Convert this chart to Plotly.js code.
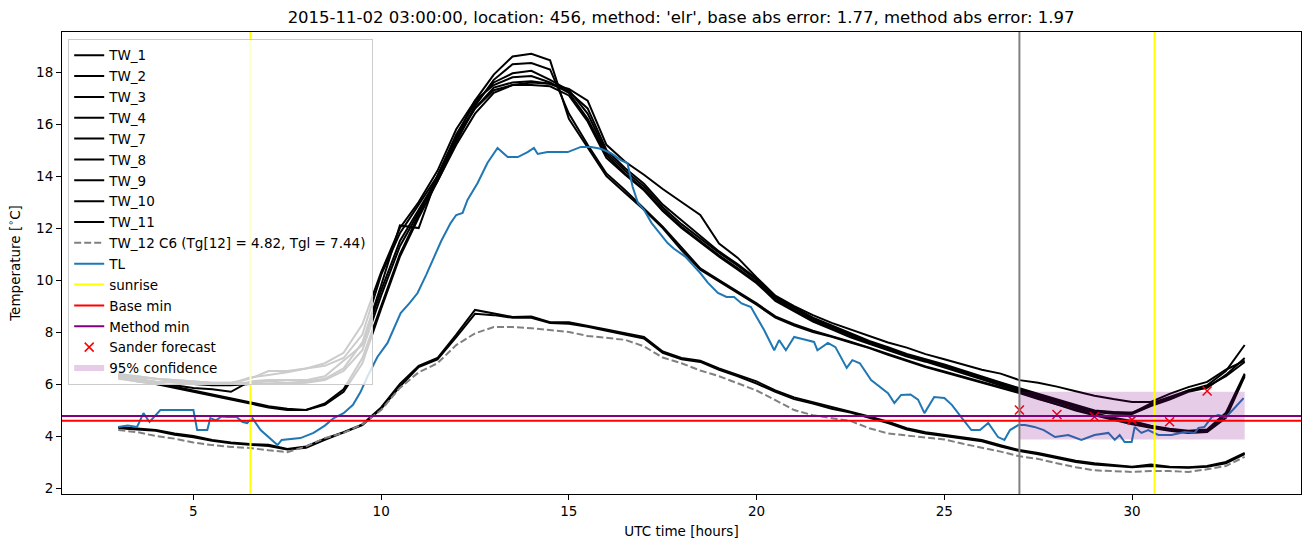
<!DOCTYPE html>
<html>
<head>
<meta charset="utf-8">
<script src="https://cdn.plot.ly/plotly-3.0.1.min.js"></script>
<style>html,body{margin:0;padding:0;background:#fff;}#chart{width:1311px;height:547px;}</style>
</head>
<body>
<div id="chart"></div>
<script>
// ---- data ----
const hours = [3,3.5,4,4.5,5,5.5,6,6.5,7,7.5,8,8.5,9,9.5,10,10.5,11,11.5,12,12.5,13,13.5,14,14.5,15,15.5,16,16.5,17,17.5,18,18.5,19,19.5,20,20.5,21,21.5,22,22.5,23,23.5,24,24.5,25,25.5,26,26.5,27,27.5,28,28.5,29,29.5,30,30.5,31,31.5,32,32.5,33];

const TW_1 = [6.25,6.1,6.0,5.85,5.7,5.55,5.4,5.25,5.1,5.0,5.0,5.25,5.8,7.0,
  9.0,11.0,12.5,14.0,15.5,16.9,17.9,18.6,18.7,
  18.45,16.2,15.1,14.0,13.35,12.7,12.0,11.15,10.4,9.95,9.5,9.05,8.55,8.25,8.0,7.82,7.6,7.38,7.12,6.88,6.65,6.45,6.25,6.05,5.85,5.65,
  5.42,5.22,5.0,4.82,4.65,4.5,4.38,4.25,4.15,4.2,4.8,6.35];
const TW_2 = [6.3,6.15,6.05,5.9,5.75,5.6,5.45,5.3,5.15,5.05,5.0,5.2,5.7,6.8,
  8.9,10.9,12.4,13.8,15.3,16.7,17.7,18.3,18.35,
  18.1,16.4,15.2,14.1,13.45,12.75,12.05,11.25,10.45,10.0,9.55,9.1,8.6,8.3,8.05,7.85,7.63,7.4,7.15,6.9,6.68,6.48,6.28,6.08,5.88,5.68,
  5.45,5.2,4.98,4.8,4.62,4.45,4.32,4.2,4.12,4.15,4.7,6.3];
const TW_3 = [6.35,6.25,6.2,6.15,6.1,6.05,6.05,6.05,6.1,6.05,6.1,6.2,6.6,7.6,
  9.8,12.1,12.0,14.0,15.6,16.8,17.6,17.95,18.05,
  17.7,17.3,16.4,14.9,14.2,13.6,12.8,12.15,11.6,11.05,10.55,10.0,9.3,8.92,8.5,8.2,7.9,7.62,7.38,7.12,6.92,6.72,6.48,6.26,6.02,5.8,
  5.58,5.38,5.15,4.96,4.9,4.9,5.2,5.45,5.75,5.95,6.5,7.5];
const TW_4 = [6.4,6.3,6.2,6.15,6.1,6.05,6.05,6.2,6.5,6.5,6.6,6.8,7.2,8.3,
  10.3,12.0,13.0,14.2,15.8,16.9,17.5,17.8,17.85,
  17.6,17.2,16.2,14.8,14.1,13.5,12.7,12.05,11.5,10.95,10.45,9.92,9.25,8.85,8.45,8.15,7.85,7.58,7.34,7.1,6.9,6.68,6.45,6.22,5.98,5.76,
  5.54,5.34,5.12,4.92,4.86,4.85,5.15,5.4,5.7,5.85,6.35,7.0];
const TW_7 = [6.3,6.2,6.1,6.05,6.0,5.95,5.95,6.0,6.0,6.0,6.05,6.15,6.5,7.3,
  9.4,11.3,12.6,13.8,15.2,16.4,17.2,17.5,17.6,
  17.55,17.35,16.9,15.2,14.55,14.05,13.5,13.0,12.5,11.4,10.85,10.1,9.4,9.0,8.65,8.35,8.1,7.82,7.6,7.4,7.15,6.95,6.75,6.55,6.4,6.15,
  6.05,5.9,5.72,5.55,5.42,5.31,5.31,5.62,5.88,6.08,6.55,6.9];
const TW_8 = [6.35,6.3,6.2,6.1,6.05,6.0,6.0,6.25,6.35,6.45,6.6,6.7,7.0,7.9,
  10.2,11.8,12.9,14.0,15.5,16.6,17.3,17.5,17.5,
  17.45,17.1,16.1,14.7,14.05,13.45,12.65,12.0,11.45,10.9,10.4,9.88,9.2,8.8,8.4,8.1,7.8,7.55,7.3,7.06,6.86,6.64,6.42,6.18,5.94,5.72,
  5.5,5.3,5.08,4.88,4.7,4.58,4.4,4.28,4.2,4.25,4.9,6.4];
const TW_9 = [6.2,6.1,6.0,5.95,5.85,5.8,5.7,6.1,6.15,6.15,6.15,6.3,6.9,7.5,
  9.6,11.5,12.7,13.9,15.4,16.6,17.4,17.6,17.65,
  17.55,17.25,16.6,15.0,14.3,13.7,12.9,12.3,11.7,11.1,10.6,10.05,9.35,8.95,8.55,8.25,7.95,7.66,7.42,7.16,6.95,6.75,6.52,6.28,6.06,5.84,
  5.62,5.42,5.18,4.98,4.92,4.88,5.25,5.5,5.75,5.9,6.3,6.85];
const TW_10 = [4.35,4.3,4.23,4.1,4.0,3.85,3.75,3.69,3.66,3.5,3.6,3.9,4.15,4.45,
  5.1,6.0,6.7,7.0,7.9,8.85,8.72,8.58,8.6,
  8.38,8.38,8.25,8.1,7.95,7.81,7.25,7.0,6.9,6.6,6.35,6.1,5.75,5.48,5.3,5.12,4.95,4.75,4.55,4.3,4.15,4.05,3.95,3.85,3.65,3.46,
  3.35,3.2,3.05,2.95,2.88,2.82,2.9,2.82,2.8,2.85,3.0,3.35];
const TW_11 = [4.3,4.25,4.2,4.05,3.95,3.82,3.72,3.66,3.62,3.48,3.55,3.85,4.12,4.42,
  5.05,5.9,6.65,6.95,7.8,8.7,8.65,8.55,8.55,
  8.35,8.32,8.2,8.05,7.9,7.75,7.2,6.95,6.85,6.55,6.3,6.02,5.7,5.42,5.25,5.05,4.9,4.7,4.5,4.25,4.1,4.0,3.9,3.8,3.6,3.42,
  3.3,3.15,3.0,2.9,2.85,2.8,2.85,2.8,2.78,2.82,2.95,3.3];
const TW_12 = [4.23,4.15,4.0,3.9,3.75,3.65,3.58,3.54,3.45,3.38,3.6,3.92,4.12,4.45,
  5.0,5.85,6.45,6.8,7.5,7.95,8.19,8.19,8.15,
  8.08,8.0,7.85,7.78,7.7,7.45,7.02,6.8,6.52,6.3,6.02,5.75,5.38,5.0,4.8,4.7,4.58,4.3,4.1,4.02,3.95,3.87,3.7,3.55,3.4,3.22,
  3.12,2.95,2.8,2.68,2.65,2.62,2.65,2.65,2.62,2.72,2.85,3.2];

const tlHours = [3.0,3.25,3.5,3.67,3.83,4.12,4.5,5.0,5.1,5.37,5.45,5.6,5.75,5.9,6.15,6.3,6.43,6.57,6.79,7.0,7.24,7.35,7.85,8.2,8.5,8.74,9.0,9.25,9.45,9.63,9.9,10.17,10.35,10.52,10.75,10.97,11.2,11.4,11.6,11.85,12.0,12.17,12.3,12.57,12.83,13.1,13.37,13.64,13.9,14.07,14.17,14.43,14.97,15.32,15.59,15.85,16.12,16.39,16.56,16.7,16.84,17.0,17.2,17.63,17.8,18.1,18.5,18.7,18.97,19.2,19.4,19.6,19.85,20.0,20.2,20.47,20.6,20.78,21.0,21.3,21.53,21.62,21.9,22.1,22.4,22.55,22.75,23.05,23.3,23.5,23.67,23.85,24.1,24.3,24.47,24.73,25.0,25.2,25.45,25.72,25.95,26.17,26.43,26.6,26.75,26.97,27.15,27.4,27.65,27.95,28.3,28.65,29.0,29.37,29.54,29.67,29.8,29.99,30.07,30.25,30.43,30.7,31.05,31.4,31.67,31.77,31.93,32.12,32.3,32.5,32.73,32.85,32.97];
const TL = [4.35,4.4,4.35,4.88,4.54,5.0,5.0,5.0,4.23,4.23,4.69,4.6,4.75,4.73,4.73,4.55,4.5,4.69,4.23,3.95,3.65,3.85,3.92,4.12,4.4,4.69,4.88,5.2,5.69,6.27,7.04,7.58,8.2,8.73,9.1,9.5,10.2,10.88,11.5,12.19,12.5,12.58,13.08,13.73,14.5,15.08,14.73,14.73,14.92,15.08,14.85,14.92,14.92,15.12,15.12,15.05,14.88,14.6,14.5,13.58,12.96,12.7,12.2,11.42,11.2,10.9,10.27,9.9,9.5,9.35,9.35,9.1,8.96,8.58,8.08,7.3,7.69,7.3,7.81,7.7,7.62,7.3,7.58,7.42,6.62,6.92,6.8,6.15,5.88,5.65,5.27,5.58,5.6,5.4,4.88,5.5,5.46,5.2,4.73,4.23,4.23,4.5,3.96,3.85,4.23,4.42,4.42,4.35,4.23,3.96,4.04,3.85,4.04,4.12,3.85,4.04,3.77,3.77,4.35,4.12,4.23,4.04,4.04,4.15,4.12,4.31,4.35,4.73,4.81,4.73,5.08,5.27,5.46];

const sunriseHours = [6.52, 30.6];
const forecastTime = 27.0;
const baseMin = 4.59;
const methodMin = 4.77;
const sanderHours = [27,28,29,30,31,32];
const sanderTemp = [5.0,4.83,4.74,4.62,4.55,5.73];
const confStart = 27, confEnd = 33, confLow = 3.87, confHigh = 5.70;

const twNames = ['TW_1','TW_2','TW_3','TW_4','TW_7','TW_8','TW_9','TW_10','TW_11'];
const twSeries = [TW_1,TW_2,TW_3,TW_4,TW_7,TW_8,TW_9,TW_10,TW_11];
const tw12Name = 'TW_12 C6 (Tg[12] = 4.82, Tgl = 7.44)';
const titleText = "2015-11-02 03:00:00, location: 456, method: 'elr', base abs error: 1.77, method abs error: 1.97";

// ---- traces ----
const FONT = 'DejaVu Sans, Liberation Sans, sans-serif';
const traces = [];
twSeries.forEach((s, i) => {
  traces.push({x: hours, y: s, type: 'scatter', mode: 'lines', name: twNames[i],
    legendgroup: 'g' + i, line: {color: '#000000', width: 2}});
});
traces.push({x: hours, y: TW_12, type: 'scatter', mode: 'lines', name: tw12Name, legendgroup: 'g12',
  line: {color: '#808080', width: 2, dash: '7px,3px'}});
traces.push({x: tlHours, y: TL, type: 'scatter', mode: 'lines', name: 'TL', legendgroup: 'gTL',
  line: {color: '#1f77b4', width: 2}});
traces.push({x: [null], y: [null], type: 'scatter', mode: 'lines', name: 'sunrise', legendgroup: 'gS',
  line: {color: '#ffff00', width: 2}});
traces.push({x: [null], y: [null], type: 'scatter', mode: 'lines', name: 'Base min', legendgroup: 'gB',
  line: {color: '#ff0000', width: 2}});
traces.push({x: [null], y: [null], type: 'scatter', mode: 'lines', name: 'Method min', legendgroup: 'gM',
  line: {color: '#800080', width: 2}});
traces.push({x: sanderHours, y: sanderTemp, type: 'scatter', mode: 'markers', name: 'Sander forecast', legendgroup: 'gF',
  marker: {symbol: 'x-thin', size: 9, color: '#ff0000', line: {color: '#ff0000', width: 1.5}}});
traces.push({x: [confStart, confEnd, confEnd, confStart, confStart], y: [confLow, confLow, confHigh, confHigh, confLow],
  type: 'scatter', mode: 'none', fill: 'toself', fillcolor: 'rgba(128,0,128,0.2)', name: '95% confidence', legendgroup: 'gC'});

const shapes = [];
sunriseHours.forEach(h => shapes.push({type: 'line', xref: 'x', yref: 'paper', x0: h, x1: h, y0: 0, y1: 1,
  line: {color: '#ffff00', width: 2}, layer: 'above'}));
shapes.push({type: 'line', xref: 'x', yref: 'paper', x0: forecastTime, x1: forecastTime, y0: 0, y1: 1,
  line: {color: '#808080', width: 2}, layer: 'above'});
shapes.push({type: 'line', xref: 'paper', yref: 'y', x0: 0, x1: 1, y0: baseMin, y1: baseMin,
  line: {color: '#ff0000', width: 2}, layer: 'above'});
shapes.push({type: 'line', xref: 'paper', yref: 'y', x0: 0, x1: 1, y0: methodMin, y1: methodMin,
  line: {color: '#800080', width: 2}, layer: 'above'});

const axisCommon = {showline: true, mirror: true, linecolor: '#000', linewidth: 1, ticks: 'outside', ticklen: 5,
  tickwidth: 1, tickcolor: '#000', showgrid: false, zeroline: false, tickfont: {family: FONT, size: 13.5, color: '#000'}};

const layout = {
  width: 1311, height: 547,
  margin: {l: 62, r: 10, t: 32, b: 53},
  paper_bgcolor: '#fff', plot_bgcolor: '#fff',
  font: {family: FONT, color: '#000'},
  title: {text: titleText, font: {family: FONT, size: 16.5, color: '#000'}, x: 0.5195, xanchor: 'center',
    y: 1 - 17/547, yref: 'container', yanchor: 'middle'},
  xaxis: Object.assign({}, axisCommon, {range: [1.5, 34.5], tick0: 0, dtick: 5,
    title: {text: 'UTC time [hours]', font: {family: FONT, size: 13.5, color: '#000'}, standoff: 8}}),
  yaxis: Object.assign({}, axisCommon, {range: [1.77, 19.54], tick0: 0, dtick: 2,
    title: {text: 'Temperature [<sup>∘</sup>C]', font: {family: FONT, size: 13.5, color: '#000'}, standoff: 12}}),
  legend: {x: 0.005, y: 0.985, xanchor: 'left', yanchor: 'top', bgcolor: 'rgba(255,255,255,0.8)',
    bordercolor: '#cccccc', borderwidth: 1, font: {family: FONT, size: 13.5, color: '#000'},
    traceorder: 'grouped', tracegroupgap: 0.3},
  shapes: shapes,
  showlegend: true
};

Plotly.newPlot('chart', traces, layout, {displayModeBar: false, staticPlot: true});
</script>
</body>
</html>
